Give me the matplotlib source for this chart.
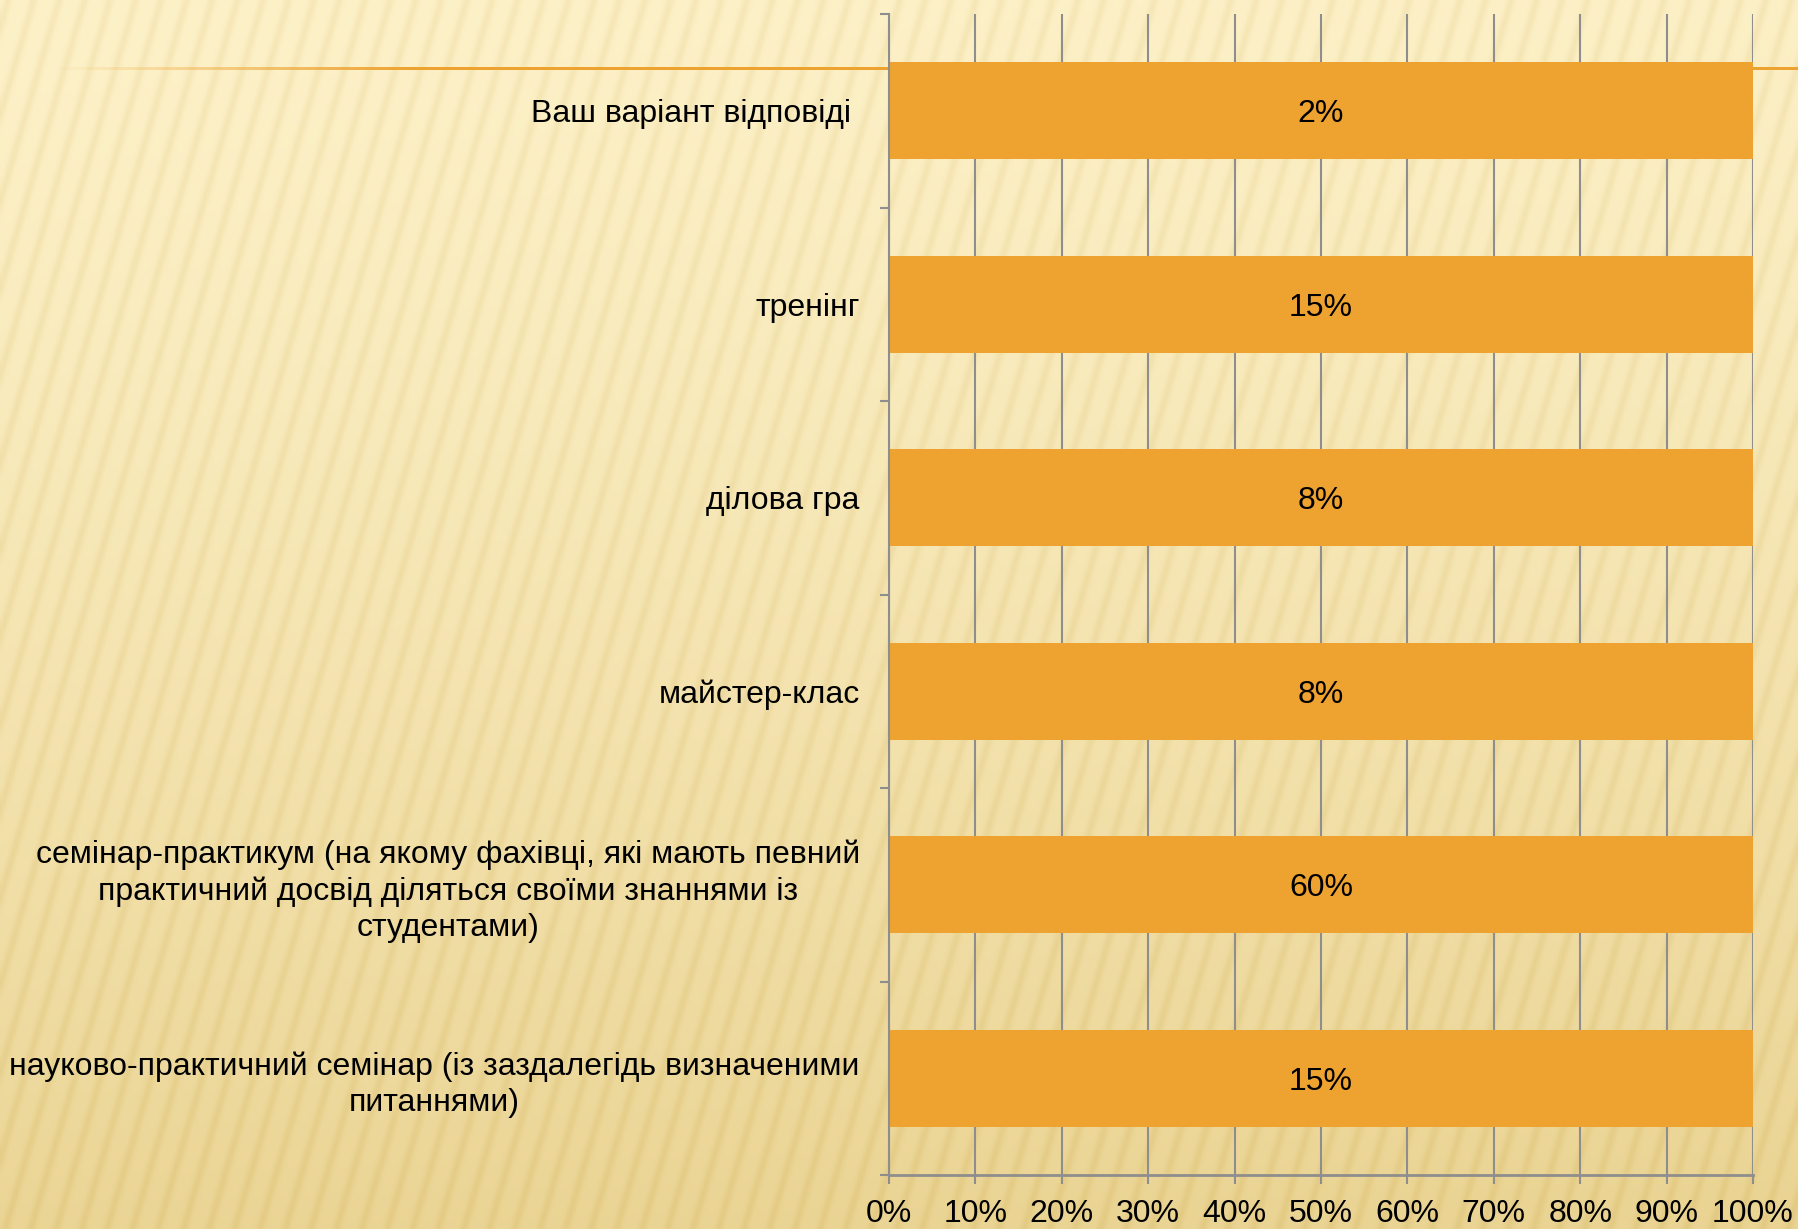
import numpy as np
import matplotlib.pyplot as plt
from matplotlib.colors import to_rgb

plt.rcParams['font.family'] = ['Liberation Sans', 'DejaVu Sans']

# Data (bottom to top)
categories = [
    'науково-практичний семінар (із заздалегідь визначеними\nпитаннями)',
    'семінар-практикум (на якому фахівці, які мають певний\nпрактичний досвід діляться своїми знаннями із\nстудентами)',
    'майстер-клас',
    'ділова гра',
    'тренінг',
    'Ваш варіант відповіді ',
]
values = [15, 60, 8, 8, 15, 2]
x_ticks = [0, 10, 20, 30, 40, 50, 60, 70, 80, 90, 100]
x_tick_labels = [f'{t}%' for t in x_ticks]

bar_color = '#EEA22F'
grid_color = '#8E8E8E'
fs = 23

fig = plt.figure(figsize=(17.98, 12.29), dpi=100)

# Background: cream gradient with soft diagonal stripes
H, W = 400, 600
yy, xx = np.mgrid[0:H, 0:W] / np.array([H, W]).reshape(2, 1, 1)
top = np.array(to_rgb('#FDF1C8'))
bot = np.array(to_rgb('#E9D290'))
t = np.clip(yy ** 1.3 * 0.9 + xx * 0.05, 0, 1)[..., None]
img = top * (1 - t) + bot * t
stripes = 0.5 + 0.5 * np.sin((xx * W + yy * H * 0.3) * 2 * np.pi / 8.5)
dark = np.array(to_rgb('#D9BF72')) - top
img = img + (stripes[..., None] ** 4) * dark * 0.2
img = np.clip(img, 0, 1)

bg = fig.add_axes([0, 0, 1, 1], zorder=-1)
bg.imshow(img, extent=[0, 1, 0, 1], aspect='auto', origin='upper', interpolation='bilinear')

# Orange rule line fading in from the left
line = np.zeros((1, 400, 4))
line[..., :3] = to_rgb(bar_color)
lx = np.linspace(0, 1, 400)
line[0, :, 3] = np.clip((lx - 0.03) / 0.2, 0, 1)
ly = 1 - 69 / 1229
bg.imshow(line, extent=[0.0, 1.0, ly - 1.5 / 1229, ly + 1.5 / 1229], aspect='auto')
bg.set_xlim(0, 1)
bg.set_ylim(0, 1)
bg.axis('off')

ax = fig.add_axes([889 / 1798, 1 - 1175 / 1229, (1753 - 889) / 1798, (1175 - 14) / 1229])
ax.set_facecolor('none')

# 100% stacked: single series, each bar normalised by its category total
y = np.arange(len(categories))
totals = np.array(values, dtype=float)
shares = 100 * np.array(values) / totals
ax.barh(y, shares, height=0.5, color=bar_color, zorder=2)
for yi, v, s in zip(y, values, shares):
    ax.text(s / 2, yi, f'{v}%', ha='center', va='center_baseline', fontsize=fs, color='black', zorder=3)

ax.set_xlim(0, 100)
ax.set_ylim(-0.5, len(categories) - 0.5)
ax.set_xticks(x_ticks)
ax.set_xticklabels(x_tick_labels, fontsize=fs)
ax.set_yticks(y)
ax.set_yticklabels(categories, fontsize=fs, multialignment='center', linespacing=1.26)
ax.set_yticks(np.arange(-0.5, len(categories)), minor=True)

ax.tick_params(axis='y', which='major', length=0, pad=21)
ax.tick_params(axis='y', which='minor', length=6.5, width=1.5, color=grid_color)
ax.tick_params(axis='x', length=6.5, width=1.5, color=grid_color, pad=11)

ax.xaxis.grid(True, color=grid_color, linewidth=1.5, zorder=1)
ax.set_axisbelow(True)

for side in ['top', 'right']:
    ax.spines[side].set_visible(False)
ax.spines['left'].set_color(grid_color)
ax.spines['left'].set_linewidth(1.5)
ax.spines['bottom'].set_color(grid_color)
ax.spines['bottom'].set_linewidth(2)

fig.savefig('out.png', dpi=100)
